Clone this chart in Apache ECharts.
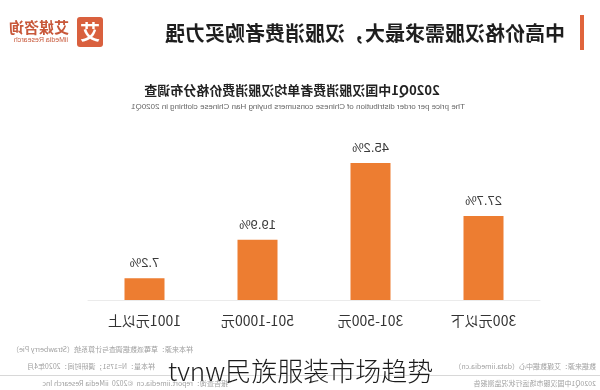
<!DOCTYPE html>
<html>
<head>
<meta charset="utf-8">
<script src="https://cdn.jsdelivr.net/npm/echarts@6/dist/echarts.min.js"></script>
<style>
html,body{margin:0;padding:0;background:#fff;}
#wrap{position:relative;width:600px;height:390px;overflow:hidden;}
#chart{position:absolute;left:0;top:0;width:600px;height:390px;transform:scaleX(-1);}
#wm{position:absolute;left:168px;top:353px;font-family:"Noto Sans CJK SC","Noto Sans",sans-serif;font-weight:300;font-size:26px;line-height:34px;color:#1c1c1c;white-space:nowrap;text-shadow:0 0 2px #fff;}
</style>
</head>
<body>
<div id="wrap">
<div id="chart"></div>
<div id="wm">tvnw民族服装市场趋势</div>
</div>
<script>
const categories = ['300元以下', '301-500元', '501-1000元', '1001元以上'];
const shares = [27.7, 45.2, 19.9, 7.2];
const titleText = '中高价格汉服需求最大，汉服消费者购买力强';
const subTitle = '2020Q1中国汉服消费者单均汉服消费价格分布调查';
const subTitleEn = 'The price per order distribution of Chinese consumers buying Han Chinese clothing in 2020Q1';
const footLines = [
  '样本来源：草莓派数据调查与计算系统（Strawberry Pie）',
  '样本量：N=1751；调研时间：2020年4月',
  '数据来源：艾媒数据中心（data.iimedia.cn）',
  '2020Q1中国汉服市场运行状况监测报告',
  '报告查询：report.iimedia.cn  ©2020  iiMedia Research Inc'
];

const chart = echarts.init(document.getElementById('chart'), null, {renderer: 'canvas'});
const cjk = '"Noto Sans CJK SC","Noto Sans",sans-serif';
const foot = {fontSize: 7, fill: '#a0a0a0', fontFamily: cjk};

chart.setOption({
  animation: false,
  backgroundColor: '#fff',
  grid: {left: 60, right: 88, top: 148.5, bottom: 90},
  xAxis: {
    type: 'category',
    data: categories,
    axisLine: {lineStyle: {color: '#ebebeb', width: 1}},
    axisTick: {show: false},
    axisLabel: {color: '#333', fontSize: 14, margin: 14, fontFamily: cjk}
  },
  yAxis: {type: 'value', min: 0, max: 50, show: false},
  series: [{
    type: 'bar',
    data: shares,
    barWidth: 40,
    itemStyle: {color: '#ED7D31'},
    label: {show: true, position: 'top', distance: 8, formatter: '{c}%', color: '#3a3a3a', fontSize: 13, fontFamily: 'Liberation Sans, Arial, sans-serif'}
  }],
  graphic: [
    {type: 'rect', shape: {x: 16, y: 15, width: 4, height: 35}, style: {fill: '#E0643C'}},
    {type: 'text', x: 35, y: 33, style: {text: titleText, fontSize: 20, fontWeight: 'bold', fill: '#1e1e1e', fontFamily: cjk, textVerticalAlign: 'middle'}},
    {type: 'rect', shape: {x: 497, y: 17, width: 26, height: 30, r: 3}, style: {fill: '#D9603E'}},
    {type: 'text', x: 510, y: 32, style: {text: '艾', fontSize: 20, fontWeight: 'bold', fill: '#fff', fontFamily: cjk, textAlign: 'center', textVerticalAlign: 'middle'}},
    {type: 'text', x: 531, y: 27, style: {text: '艾媒咨询', fontSize: 15, fontWeight: 'bold', fill: '#C8583A', fontFamily: cjk, textVerticalAlign: 'middle'}},
    {type: 'text', x: 532, y: 40, style: {text: 'iiMedia Research', fontSize: 7, fill: '#C8583A', fontFamily: 'Liberation Sans, sans-serif', textVerticalAlign: 'middle'}},
    {type: 'text', x: 308, y: 90, style: {text: subTitle, fontSize: 13, fontWeight: 'bold', fill: '#222', fontFamily: cjk, textAlign: 'center', textVerticalAlign: 'middle'}},
    {type: 'text', x: 302, y: 107, style: {text: subTitleEn, fontSize: 8, fill: '#666', fontFamily: 'Liberation Sans, sans-serif', textAlign: 'center', textVerticalAlign: 'middle'}},
    {type: 'text', x: 407, y: 349, style: Object.assign({text: footLines[0], textVerticalAlign: 'middle'}, foot)},
    {type: 'text', x: 445, y: 366, style: Object.assign({text: footLines[1], textVerticalAlign: 'middle'}, foot)},
    {type: 'text', x: 4, y: 366, style: Object.assign({text: footLines[2], textVerticalAlign: 'middle'}, foot)},
    {type: 'rect', shape: {x: 0, y: 375, width: 600, height: 1}, style: {fill: '#d8d8d8'}},
    {type: 'text', x: 4, y: 383, style: Object.assign({text: footLines[3], textVerticalAlign: 'middle'}, foot)},
    {type: 'text', x: 372, y: 383, style: Object.assign({text: footLines[4], textVerticalAlign: 'middle'}, foot)}
  ]
});
</script>
</body>
</html>
